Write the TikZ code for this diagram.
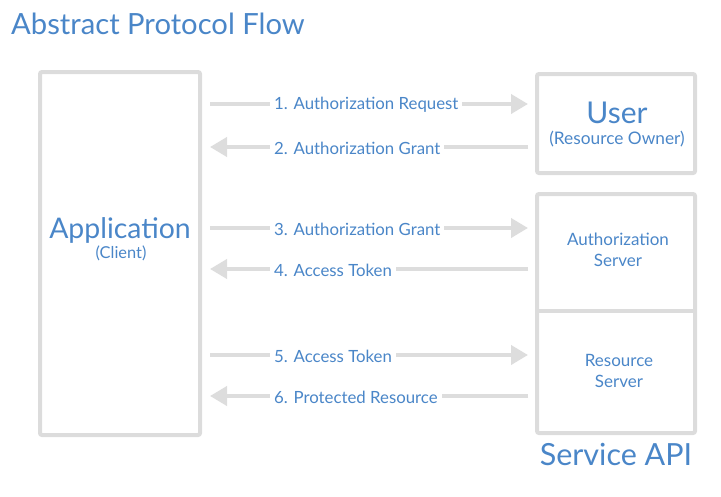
\documentclass[tikz,border=0pt]{standalone}
\usepackage{fontspec}
\setmainfont{Lato}
\usetikzlibrary{arrows.meta}
\definecolor{txt}{HTML}{4A86C8}
\definecolor{frame}{HTML}{DCDCDC}
\definecolor{arrowgray}{HTML}{DDDDDD}
\tikzset{
  box/.style={draw=frame, line width=4pt, rounded corners=2pt, inner sep=0pt},
  arr/.style={draw=arrowgray, line width=4pt, -{Triangle[length=17pt,width=19pt]}},
  lbl/.style={fill=white, text=txt, font=\fontsize{16.8}{19}\selectfont, anchor=west, inner xsep=4pt, inner ysep=1pt},
  big/.style={text=txt, anchor=base, inner sep=0pt},
}
\begin{document}
\begin{tikzpicture}[x=1pt,y=-1pt]
\useasboundingbox (0,0) rectangle (721,496);
\node[big, anchor=base west, font=\fontsize{29.2}{32}\selectfont] (title) at (11,34) {Abstract Protocol Flow};
% boxes
\node[box, minimum width=160pt, minimum height=363pt] (app) at (120,253.5) {};
\node[box, minimum width=158pt, minimum height=99pt] (user) at (616,123.5) {};
\node[box, minimum width=158pt, minimum height=239pt] (svc) at (616,313.5) {};
\draw[draw=frame, line width=4pt] (svc.west |- 0,311) -- (svc.east |- 0,311);
% texts
\node[big, font=\fontsize{28.4}{32}\selectfont] (apptxt) at (120,238) {Application};
\node[big, font=\fontsize{16.4}{18}\selectfont] (appsub) at (121,258) {(Client)};
\node[big, font=\fontsize{30}{34}\selectfont] (usertxt) at (617,123) {User};
\node[big, font=\fontsize{17.3}{19}\selectfont] (usersub) at (617,144) {(Resource Owner)};
\node[big, font=\fontsize{17}{19}\selectfont] (as1) at (618,245) {Authorization};
\node[big, font=\fontsize{17}{19}\selectfont] (as2) at (618,266) {Server};
\node[big, font=\fontsize{17}{19}\selectfont] (rs1) at (619,366) {Resource};
\node[big, font=\fontsize{17}{19}\selectfont] (rs2) at (619,387) {Server};
\node[big, font=\fontsize{30.5}{34}\selectfont] (api) at (616,465) {Service API};
% arrows
\foreach \y/\dir/\t [count=\i] in {104/r/1. Authorization Request, 147/l/2. Authorization Grant, 228/r/3. Authorization Grant, 269/l/4. Access Token, 355/r/5. Access Token, 396/l/6. Protected Resource}{
  \coordinate (L\i) at (210,\y);
  \coordinate (R\i) at (528,\y);
  \if\dir r
    \draw[arr] (L\i) -- (R\i);
  \else
    \draw[arr] (R\i) -- (L\i);
  \fi
  \node[lbl] (m\i) at (270,\y+1) {\t};
}
\end{tikzpicture}
\end{document}
